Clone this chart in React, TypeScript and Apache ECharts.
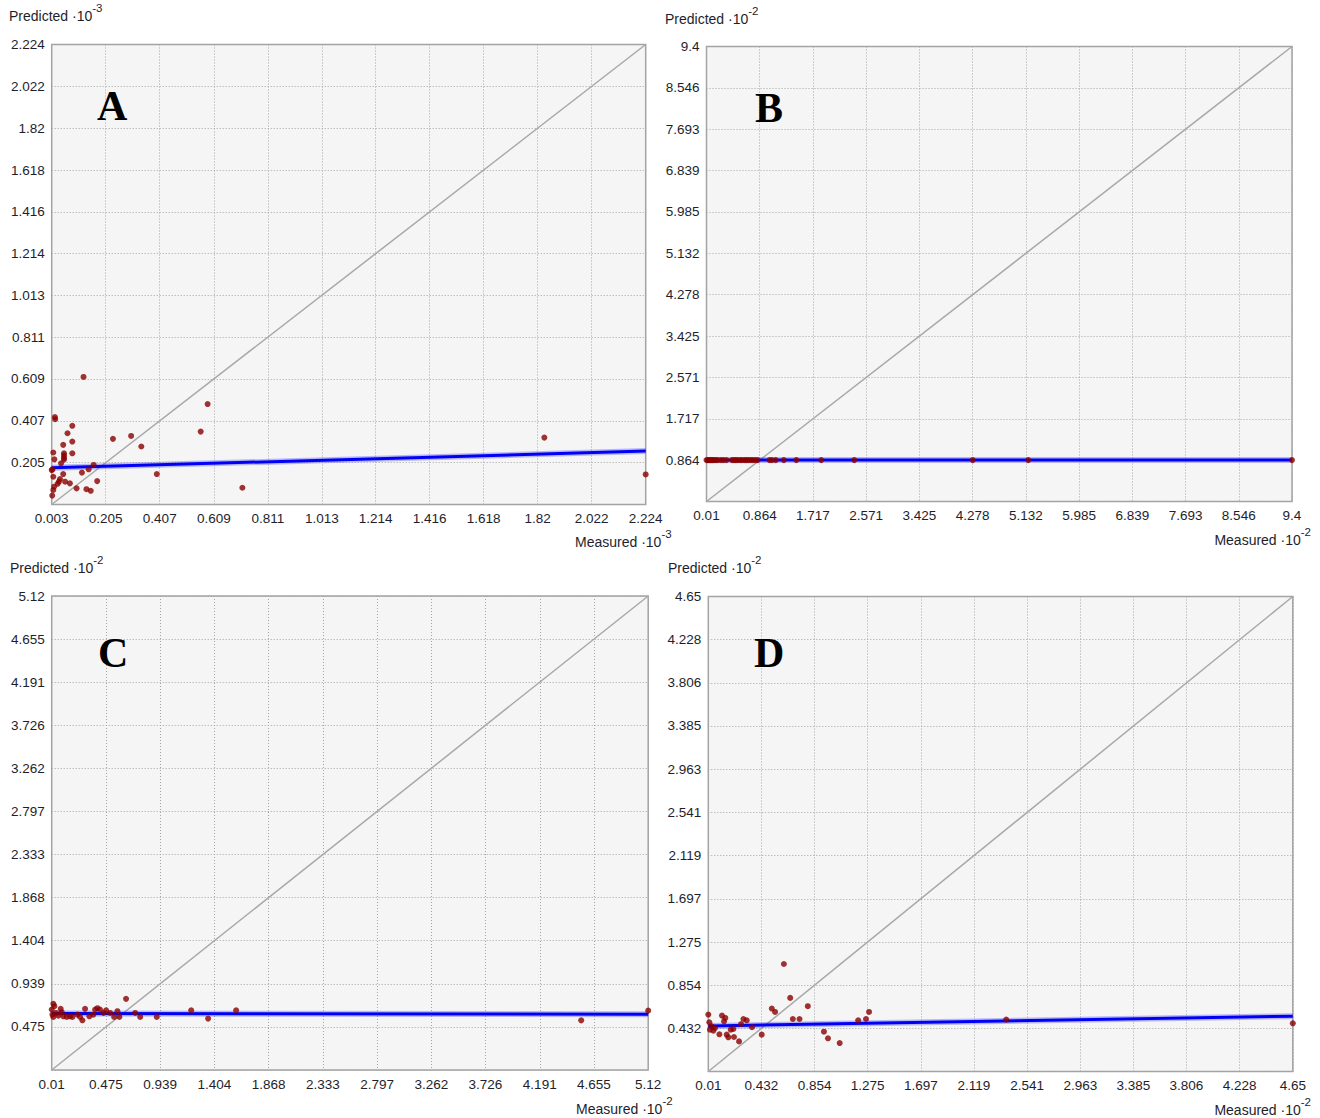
import React, { useEffect, useRef } from 'react';
import * as echarts from 'echarts';

// ---------- DATA ----------
const A_TICKS = [0.003, 0.205, 0.407, 0.609, 0.811, 1.013, 1.214, 1.416, 1.618, 1.82, 2.022, 2.224];
const A_MEASURED = [0.122, 0.015, 0.016, 0.080, 0.062, 0.080, 0.046, 0.009, 0.049, 0.049, 0.049, 0.049, 0.080, 0.013, 0.038, 0.003, 0.160, 0.141, 0.116, 0.046, 0.009, 0.034, 0.030, 0.025, 0.053, 0.071, 0.012, 0.009, 0.005, 0.096, 0.133, 0.149, 0.173, 0.006, 0.232, 0.300, 0.338, 0.396, 0.560, 0.586, 0.716, 1.845, 2.224];
const A_PREDICTED = [0.619, 0.425, 0.415, 0.383, 0.347, 0.307, 0.291, 0.254, 0.250, 0.240, 0.228, 0.220, 0.250, 0.221, 0.202, 0.169, 0.194, 0.173, 0.157, 0.150, 0.137, 0.126, 0.113, 0.103, 0.113, 0.105, 0.089, 0.073, 0.046, 0.081, 0.077, 0.069, 0.116, 0.173, 0.320, 0.334, 0.283, 0.150, 0.355, 0.488, 0.084, 0.326, 0.148];
const A_FIT = [0.180, 0.261];

const B_TICKS = [0.01, 0.864, 1.717, 2.571, 3.425, 4.278, 5.132, 5.985, 6.839, 7.693, 8.546, 9.4];
const B_MEASURED = [0.01, 0.03, 0.05, 0.07, 0.09, 0.11, 0.13, 0.16, 0.19, 0.24, 0.28, 0.33, 0.42, 0.45, 0.48, 0.51, 0.55, 0.58, 0.62, 0.65, 0.68, 0.72, 0.75, 0.79, 0.83, 1.02, 1.06, 1.12, 1.25, 1.45, 1.85, 2.38, 4.28, 5.17, 9.4];
const B_PREDICTED = [0.864, 0.864, 0.864, 0.864, 0.864, 0.864, 0.864, 0.864, 0.864, 0.864, 0.864, 0.864, 0.864, 0.864, 0.864, 0.864, 0.864, 0.864, 0.864, 0.864, 0.864, 0.864, 0.864, 0.864, 0.864, 0.864, 0.864, 0.864, 0.864, 0.864, 0.864, 0.864, 0.864, 0.864, 0.864];
const B_FIT = [0.864, 0.864];

const C_TICKS = [0.01, 0.475, 0.939, 1.404, 1.868, 2.333, 2.797, 3.262, 3.726, 4.191, 4.655, 5.12];
const C_MEASURED = [0.024, 0.033, 0.010, 0.016, 0.024, 0.047, 0.067, 0.087, 0.096, 0.110, 0.139, 0.167, 0.187, 0.230, 0.253, 0.273, 0.296, 0.333, 0.367, 0.382, 0.402, 0.424, 0.453, 0.476, 0.510, 0.545, 0.573, 0.590, 0.647, 0.725, 0.768, 0.910, 1.205, 1.350, 1.590, 4.546, 5.120];
const C_PREDICTED = [0.723, 0.698, 0.662, 0.607, 0.582, 0.625, 0.596, 0.669, 0.633, 0.589, 0.582, 0.589, 0.582, 0.607, 0.582, 0.546, 0.669, 0.589, 0.607, 0.662, 0.676, 0.662, 0.625, 0.654, 0.625, 0.582, 0.644, 0.582, 0.777, 0.625, 0.582, 0.582, 0.654, 0.564, 0.654, 0.545, 0.650];
const C_FIT = [0.618, 0.612];

const D_TICKS = [0.01, 0.432, 0.854, 1.275, 1.697, 2.119, 2.541, 2.963, 3.385, 3.806, 4.228, 4.65];
const D_MEASURED = [0.010, 0.018, 0.023, 0.037, 0.050, 0.063, 0.098, 0.119, 0.145, 0.135, 0.156, 0.169, 0.188, 0.209, 0.214, 0.254, 0.270, 0.289, 0.315, 0.357, 0.434, 0.514, 0.540, 0.610, 0.660, 0.681, 0.734, 0.800, 0.928, 0.960, 1.053, 1.200, 1.262, 1.286, 2.375, 4.650];
const D_PREDICTED = [0.566, 0.491, 0.419, 0.451, 0.409, 0.435, 0.373, 0.556, 0.533, 0.500, 0.370, 0.344, 0.419, 0.425, 0.347, 0.304, 0.474, 0.523, 0.510, 0.442, 0.370, 0.625, 0.592, 1.060, 0.729, 0.523, 0.523, 0.648, 0.399, 0.334, 0.288, 0.510, 0.523, 0.592, 0.517, 0.481];
const D_FIT = [0.455, 0.55];

const LETTERS = ['A', 'B', 'C', 'D'];
const EXPONENTS = ['-3', '-2', '-2', '-2'];
const X_NAME = 'Measured ·10';
const Y_NAME = 'Predicted ·10';

// ---------- LAYOUT ----------
const FONT = "'Liberation Sans Narrow', 'Arial Narrow', 'Liberation Sans', Arial, sans-serif";
const TEXT_COLOR = '#1e1e2c';

const PANELS = [
  { ticks: A_TICKS, measured: A_MEASURED, predicted: A_PREDICTED, fit: A_FIT,
    grid: { left: 51.7, top: 44.5, width: 594, height: 460 },
    letter: [97, 106], yName: [9, 2], xName: [575, 528], xAlign: 'left' },
  { ticks: B_TICKS, measured: B_MEASURED, predicted: B_PREDICTED, fit: B_FIT,
    grid: { left: 706.5, top: 46.5, width: 585.5, height: 455 },
    letter: [755, 108], yName: [665, 5], xName: [1311, 526], xAlign: 'right' },
  { ticks: C_TICKS, measured: C_MEASURED, predicted: C_PREDICTED, fit: C_FIT,
    grid: { left: 51.7, top: 596, width: 596.5, height: 474 },
    letter: [98, 653], yName: [10, 554], xName: [576, 1095], xAlign: 'left' },
  { ticks: D_TICKS, measured: D_MEASURED, predicted: D_PREDICTED, fit: D_FIT,
    grid: { left: 708.3, top: 596.5, width: 584.5, height: 475 },
    letter: [754, 653], yName: [668, 554], xName: [1311, 1096], xAlign: 'right' },
];

function buildOption() {
  const grids: any[] = [];
  const xAxes: any[] = [];
  const yAxes: any[] = [];
  const series: any[] = [];
  const graphics: any[] = [];

  const splitLine = { show: true, lineStyle: { color: '#a4a4a4', width: 1, type: [1, 2] } };
  const labelStyle = { color: TEXT_COLOR, fontFamily: FONT, fontSize: 13.5 };

  PANELS.forEach((p, i) => {
    const min = p.ticks[0];
    const max = p.ticks[p.ticks.length - 1];
    grids.push({
      ...p.grid, show: true, backgroundColor: '#f5f5f5', borderColor: '#a3a3a3', borderWidth: 1.5,
      containLabel: false, outerBoundsMode: 'none',
    });
    xAxes.push({
      gridIndex: i, type: 'value', min, max,
      axisLine: { show: false },
      axisTick: { show: false, customValues: p.ticks },
      axisLabel: { ...labelStyle, customValues: p.ticks, margin: 7, formatter: (v: number) => String(v), showMinLabel: true, showMaxLabel: true, hideOverlap: false },
      splitLine,
    });
    yAxes.push({
      gridIndex: i, type: 'value', min, max,
      axisLine: { show: false },
      axisTick: { show: false, customValues: p.ticks },
      axisLabel: { ...labelStyle, customValues: p.ticks.slice(1), margin: 7, formatter: (v: number) => String(v), hideOverlap: false },
      splitLine,
    });
    series.push({
      type: 'line', xAxisIndex: i, yAxisIndex: i, data: [[min, min], [max, max]],
      symbol: 'none', silent: true, z: 2, lineStyle: { color: '#a8a8a8', width: 1.5 },
    });
    series.push({
      type: 'line', xAxisIndex: i, yAxisIndex: i, data: [[min, p.fit[0]], [max, p.fit[1]]],
      symbol: 'none', silent: true, z: 3, lineStyle: { color: 'rgba(70,70,255,0.35)', width: 6 },
    });
    series.push({
      type: 'line', xAxisIndex: i, yAxisIndex: i, data: [[min, p.fit[0]], [max, p.fit[1]]],
      symbol: 'none', silent: true, z: 4, lineStyle: { color: '#0000f5', width: 3 },
    });
    series.push({
      type: 'scatter', xAxisIndex: i, yAxisIndex: i,
      data: p.measured.map((m, j) => [m, p.predicted[j]]),
      symbol: 'circle', symbolSize: 6, z: 5, clip: false,
      itemStyle: { color: '#8b0000' },
    });

    graphics.push({
      type: 'text', x: p.letter[0], y: p.letter[1], z: 10,
      style: {
        text: LETTERS[i], fontFamily: "'Liberation Serif', 'Times New Roman', serif", fontSize: 42,
        fontWeight: 'bold', fill: '#000', textAlign: 'left', textVerticalAlign: 'middle',
        shadowColor: 'rgba(0,0,0,0.35)', shadowBlur: 3, shadowOffsetX: 2, shadowOffsetY: 2,
      },
    });
    const rich = {
      a: { fontFamily: FONT, fontSize: 14, lineHeight: 28, fill: TEXT_COLOR },
      b: { fontFamily: FONT, fontSize: 11.5, lineHeight: 12, verticalAlign: 'top', fill: TEXT_COLOR },
    };
    graphics.push({
      type: 'text', x: p.yName[0], y: p.yName[1], z: 10,
      style: { text: `{a|${Y_NAME}}{b|${EXPONENTS[i]}}`, rich, textAlign: 'left', textVerticalAlign: 'top' },
    });
    graphics.push({
      type: 'text', x: p.xName[0], y: p.xName[1], z: 10,
      style: { text: `{a|${X_NAME}}{b|${EXPONENTS[i]}}`, rich, textAlign: p.xAlign, textVerticalAlign: 'top' },
    });
  });

  return {
    animation: false,
    backgroundColor: '#ffffff',
    textStyle: { fontFamily: FONT },
    grid: grids,
    xAxis: xAxes,
    yAxis: yAxes,
    series,
    graphic: graphics,
  };
}

export default function App() {
  const ref = useRef<HTMLDivElement>(null);
  useEffect(() => {
    if (!ref.current) return;
    const chart = echarts.init(ref.current, undefined, { renderer: 'svg' });
    chart.setOption(buildOption() as any);
    return () => chart.dispose();
  }, []);
  return (
    <div
      ref={ref}
      style={{ position: 'absolute', left: 0, top: 0, width: 1320, height: 1118, background: '#fff' }}
    />
  );
}
